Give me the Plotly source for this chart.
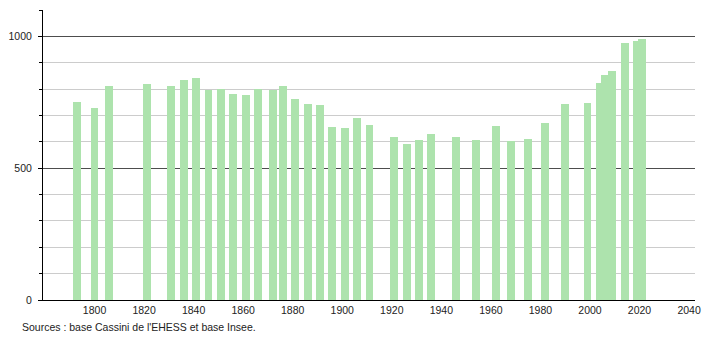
import plotly.graph_objects as go

years = [1793, 1800, 1806, 1821, 1831, 1836, 1841, 1846, 1851, 1856,
         1861, 1866, 1872, 1876, 1881, 1886, 1891, 1896, 1901, 1906,
         1911, 1921, 1926, 1931, 1936, 1946, 1954, 1962, 1968, 1975,
         1982, 1990, 1999, 2004, 2006, 2009, 2014, 2019, 2021]
population = [752, 729, 813, 820, 813, 836, 843, 798, 801, 782,
              779, 801, 798, 813, 763, 744, 741, 657, 651, 691,
              665, 619, 592, 608, 630, 619, 608, 661, 603, 611,
              672, 744, 748, 823, 855, 867, 975, 981, 990]
x_ticks = [1800, 1820, 1840, 1860, 1880, 1900, 1920, 1940, 1960, 1980, 2000, 2020, 2040]
y_ticks = [0, 500, 1000]
source_text = "Sources : base Cassini de l'EHESS et base Insee."

FONT = "Liberation Sans, Arial, sans-serif"

fig = go.Figure()
fig.add_trace(go.Bar(
    x=years, y=population, width=3.2,
    marker=dict(color="#ade3ad", line=dict(width=0)),
    hoverinfo="x+y",
))

fig.update_layout(
    width=710, height=340,
    margin=dict(l=43, r=9, t=10, b=40),
    paper_bgcolor="white", plot_bgcolor="white",
    showlegend=False,
    font=dict(family=FONT, size=10.5, color="#222"),
    bargap=0,
    xaxis=dict(
        range=[1779.2, 2042.4],
        tickmode="array", tickvals=x_ticks, ticktext=[str(v) for v in x_ticks],
        showgrid=False, zeroline=False,
        showline=True, linecolor="black", linewidth=1,
        ticks="", fixedrange=True,
    ),
    yaxis=dict(
        range=[0, 1100],
        tickmode="array", tickvals=y_ticks, ticktext=[str(v) for v in y_ticks],
        showgrid=True, gridcolor="#4d4d4d", gridwidth=1,
        zeroline=False,
        showline=True, linecolor="black", linewidth=1,
        ticks="outside", ticklen=4, tickcolor="black",
        ticklabelstandoff=4,
        minor=dict(dtick=100, tick0=0, showgrid=True, gridcolor="#cccccc",
                   ticks="outside", ticklen=3, tickcolor="black"),
        fixedrange=True,
    ),
    annotations=[dict(
        text=source_text, xref="paper", yref="paper",
        x=-0.035, y=-0.093, xanchor="left", yanchor="middle",
        showarrow=False, font=dict(family=FONT, size=10.5, color="#222"),
    )],
)

fig.write_html("out.html")
